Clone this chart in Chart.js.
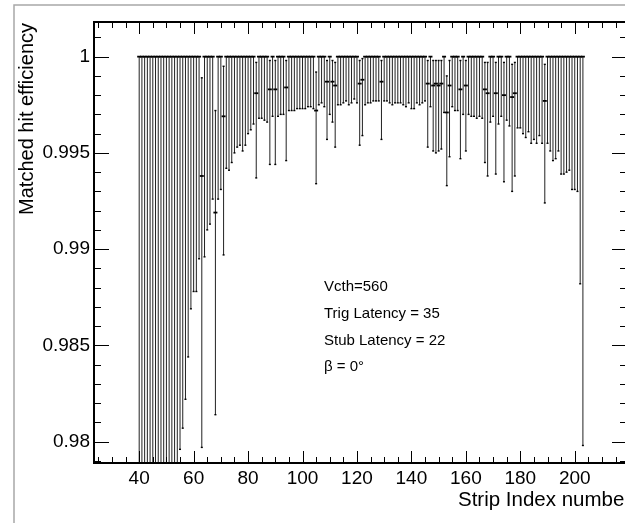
<!DOCTYPE html>
<html>
<head>
<meta charset="utf-8">
<title>Matched hit efficiency</title>
<script src="https://cdn.jsdelivr.net/npm/chart.js@4.4.1/dist/chart.umd.min.js"></script>
<style>
  html, body { margin: 0; padding: 0; background: #fff; overflow: hidden; }
  #wrap { width: 625px; height: 523px; overflow: hidden; }
  canvas { display: block; }
</style>
</head>
<body>
<div id="wrap"><canvas id="effChart" width="640" height="523"></canvas></div>
<script>
// Strip index (x categories)
const stripIndex = [
    40, 41, 42, 43, 44, 45, 46, 47, 48, 49,
    50, 51, 52, 53, 54, 55, 56, 57, 58, 59,
    60, 61, 62, 63, 64, 65, 66, 67, 68, 69,
    70, 71, 72, 73, 74, 75, 76, 77, 78, 79,
    80, 81, 82, 83, 84, 85, 86, 87, 88, 89,
    90, 91, 92, 93, 94, 95, 96, 97, 98, 99,
    100, 101, 102, 103, 104, 105, 106, 107, 108, 109,
    110, 111, 112, 113, 114, 115, 116, 117, 118, 119,
    120, 121, 122, 123, 124, 125, 126, 127, 128, 129,
    130, 131, 132, 133, 134, 135, 136, 137, 138, 139,
    140, 141, 142, 143, 144, 145, 146, 147, 148, 149,
    150, 151, 152, 153, 154, 155, 156, 157, 158, 159,
    160, 161, 162, 163, 164, 165, 166, 167, 168, 169,
    170, 171, 172, 173, 174, 175, 176, 177, 178, 179,
    180, 181, 182, 183, 184, 185, 186, 187, 188, 189,
    190, 191, 192, 193, 194, 195, 196, 197, 198, 199,
    200, 201, 202, 203
];

// Matched hit efficiency per strip
const efficiency = [
    1, 1, 1, 1, 1, 1, 1, 1, 1, 1,
    1, 1, 1, 1, 1, 1, 1, 1, 1, 1,
    1, 1, 1, 0.9938, 1, 1, 1, 1, 0.9919, 1,
    1, 0.9969, 1, 1, 1, 1, 1, 1, 1, 1,
    1, 1, 1, 0.9981, 1, 1, 1, 1, 0.9983, 1,
    0.9983, 1, 1, 1, 0.9984, 1, 1, 1, 1, 1,
    1, 1, 1, 1, 1, 0.9972, 1, 1, 1, 0.9987,
    1, 0.9987, 0.9985, 1, 1, 1, 1, 1, 1, 1,
    1, 0.9986, 0.9988, 1, 1, 1, 1, 1, 1, 0.9987,
    1, 1, 1, 1, 1, 1, 1, 1, 1, 1,
    1, 1, 1, 1, 1, 1, 0.9986, 1, 0.9985, 0.9986,
    0.9985, 0.9986, 1, 0.9971, 0.9985, 1, 1, 1, 0.9983, 1,
    0.9985, 1, 1, 1, 1, 1, 1, 0.9983, 0.9981, 1,
    1, 0.9981, 1, 1, 0.9980, 1, 1, 0.9979, 0.9981, 1,
    1, 1, 1, 1, 1, 1, 1, 1, 1, 0.9977,
    1, 1, 1, 1, 1, 1, 1, 1, 1, 1,
    1, 1, 1, 1
];

// Lower end of the asymmetric error bar
const lowerBound = [
    0.9745, 0.9742, 0.9748, 0.9744, 0.9746, 0.9750, 0.9749, 0.9752, 0.9755, 0.9753,
    0.9758, 0.9760, 0.9762, 0.9765, 0.9770, 0.9796, 0.9807, 0.9822, 0.9844, 0.9869,
    0.9878, 0.9878, 0.9895, 0.9797, 0.9896, 0.9910, 0.9913, 0.9926, 0.9814, 0.9926,
    0.9931, 0.9897, 0.9942, 0.9941, 0.9945, 0.9950, 0.9953, 0.9954, 0.9951, 0.9954,
    0.9960, 0.9962, 0.9965, 0.9937, 0.9968, 0.9968, 0.9967, 0.9966, 0.9944, 0.9969,
    0.9944, 0.9969, 0.9970, 0.9970, 0.9946, 0.9972, 0.9972, 0.9972, 0.9973, 0.9973,
    0.9973, 0.9973, 0.9974, 0.9974, 0.9973, 0.9934, 0.9975, 0.9976, 0.9974, 0.9957,
    0.9970, 0.9966, 0.9953, 0.9975, 0.9975, 0.9976, 0.9977, 0.9975, 0.9976, 0.9978,
    0.9976, 0.9954, 0.9959, 0.9975, 0.9976, 0.9976, 0.9977, 0.9977, 0.9977, 0.9957,
    0.9977, 0.9977, 0.9976, 0.9975, 0.9976, 0.9976, 0.9976, 0.9975, 0.9974, 0.9976,
    0.9973, 0.9973, 0.9976, 0.9975, 0.9976, 0.9977, 0.9953, 0.9974, 0.9951, 0.9950,
    0.9951, 0.9952, 0.9971, 0.9933, 0.9948, 0.9974, 0.9972, 0.9972, 0.9947, 0.9970,
    0.9951, 0.9970, 0.9969, 0.9969, 0.9968, 0.9969, 0.9968, 0.9945, 0.9938, 0.9966,
    0.9969, 0.9939, 0.9965, 0.9969, 0.9935, 0.9967, 0.9964, 0.9930, 0.9938, 0.9963,
    0.9963, 0.9960, 0.9958, 0.9961, 0.9955, 0.9957, 0.9955, 0.9959, 0.9955, 0.9924,
    0.9955, 0.9951, 0.9946, 0.9947, 0.9951, 0.9939, 0.9939, 0.9940, 0.9941, 0.9931,
    0.9931, 0.9930, 0.9882, 0.9798
];

// Upper end of the asymmetric error bar
const upperBound = [
    1, 1, 1, 1, 1, 1, 1, 1, 1, 1,
    1, 1, 1, 1, 1, 1, 1, 1, 1, 1,
    1, 1, 1, 0.9989, 1, 1, 1, 1, 0.9972, 1,
    1, 0.9995, 1, 1, 1, 1, 1, 1, 1, 1,
    1, 1, 1, 0.9997, 1, 1, 1, 1, 0.9998, 1,
    0.9998, 1, 1, 1, 0.9998, 1, 1, 1, 1, 1,
    1, 1, 1, 1, 1, 0.9992, 1, 1, 1, 0.9998,
    1, 0.9998, 0.9997, 1, 1, 1, 1, 1, 1, 1,
    1, 0.9998, 0.9999, 1, 1, 1, 1, 1, 1, 0.9998,
    1, 1, 1, 1, 1, 1, 1, 1, 1, 1,
    1, 1, 1, 1, 1, 1, 0.9998, 1, 0.9998, 0.9998,
    0.9998, 0.9998, 1, 0.9990, 0.9998, 1, 1, 1, 0.9998, 1,
    0.9998, 1, 1, 1, 1, 1, 1, 0.9997, 0.9997, 1,
    1, 0.9997, 1, 1, 0.9997, 1, 1, 0.9996, 0.9997, 1,
    1, 1, 1, 1, 1, 1, 1, 1, 1, 0.9996,
    1, 1, 1, 1, 1, 1, 1, 1, 1, 1,
    1, 1, 1, 1
];

const xTicks = [40, 60, 80, 100, 120, 140, 160, 180, 200];
const yTicks = [0.98, 0.985, 0.99, 0.995, 1];
const yTickLabels = ['0.98', '0.985', '0.99', '0.995', '1'];
const infoLines = ['Vcth=560', 'Trig Latency = 35', 'Stub Latency = 22', 'β = 0°'];

const FONT = "'Liberation Sans', Arial, Helvetica, sans-serif";
Chart.defaults.font.family = FONT;
Chart.defaults.color = '#000';

// ROOT-like frame, inner ticks, axis titles and the text box
const rootStyle = {
    id: 'rootStyle',
    beforeDraw(chart) {
        const ctx = chart.ctx;
        ctx.save();
        ctx.fillStyle = '#fff';
        ctx.fillRect(0, 0, chart.width, chart.height);
        ctx.strokeStyle = '#a8a8a8';
        ctx.lineWidth = 1.5;
        ctx.beginPath();
        ctx.moveTo(14, chart.height);
        ctx.lineTo(14, 5);
        ctx.lineTo(chart.width, 5);
        ctx.stroke();
        ctx.restore();
    },
    afterDraw(chart) {
        const ctx = chart.ctx;
        const a = chart.chartArea;
        const x = chart.scales.x;
        const y = chart.scales.y;
        ctx.save();
        ctx.strokeStyle = '#000';
        ctx.lineWidth = 1;
        ctx.beginPath();
        // x ticks every 5, major every 20
        for (let k = Math.ceil(x.min / 5); k * 5 <= x.max; k++) {
            const v = k * 5;
            const px = Math.round(x.getPixelForValue(v)) + 0.5;
            const len = v % 20 === 0 ? 12 : 6;
            ctx.moveTo(px, a.bottom); ctx.lineTo(px, a.bottom - len);
            ctx.moveTo(px, a.top); ctx.lineTo(px, a.top + len);
        }
        // y ticks every 0.001, major every 0.005
        for (let k = Math.ceil(y.min * 1000); k <= Math.floor(y.max * 1000); k++) {
            const py = Math.round(y.getPixelForValue(k / 1000)) + 0.5;
            const len = k % 5 === 0 ? 15 : 7;
            ctx.moveTo(a.left, py); ctx.lineTo(a.left + len, py);
            ctx.moveTo(a.right, py); ctx.lineTo(a.right - len, py);
        }
        ctx.stroke();

        ctx.lineWidth = 2;
        ctx.strokeRect(a.left, a.top, a.right - a.left, a.bottom - a.top);

        ctx.fillStyle = '#000';
        ctx.font = '20.5px ' + FONT;
        ctx.textAlign = 'left';
        ctx.textBaseline = 'alphabetic';
        ctx.fillText('Strip Index number', 458, 506);

        ctx.save();
        ctx.font = '20px ' + FONT;
        ctx.textAlign = 'right';
        ctx.translate(32.5, a.top + 1);
        ctx.rotate(-Math.PI / 2);
        ctx.fillText('Matched hit efficiency', 0, 0);
        ctx.restore();

        ctx.font = '15px ' + FONT;
        ctx.textAlign = 'left';
        const baselines = [291, 317.5, 345, 371];
        infoLines.forEach((t, i) => ctx.fillText(t, 324, baselines[i]));
        ctx.restore();
    }
};

const errorBars = stripIndex.map((s, i) => ({ x: s, y: [lowerBound[i], upperBound[i]] }));
const points = stripIndex.map((s, i) => ({ x: s, y: efficiency[i] }));
const lowCaps = stripIndex.map((s, i) => ({ x: s, y: lowerBound[i] }));
const highCaps = stripIndex
    .map((s, i) => ({ x: s, y: upperBound[i] }))
    .filter((p, i) => efficiency[i] < 1);

const ctx = document.getElementById('effChart').getContext('2d');
new Chart(ctx, {
    type: 'scatter',
    data: {
        datasets: [{
            data: points,
            pointStyle: 'line',
            pointRadius: 2,
            pointHoverRadius: 2,
            pointBorderWidth: 1.8,
            pointBorderColor: '#000',
            clip: 0,
            order: 1
        }, {
            data: lowCaps.concat(highCaps),
            pointStyle: 'line',
            pointRadius: 1,
            pointHoverRadius: 1,
            pointBorderWidth: 1.4,
            pointBorderColor: '#000',
            clip: 0,
            order: 2
        }, {
            type: 'bar',
            data: errorBars,
            barThickness: 1,
            inflateAmount: 0,
            borderWidth: 0,
            backgroundColor: '#222',
            clip: 0,
            order: 3
        }]
    },
    options: {
        responsive: false,
        animation: false,
        devicePixelRatio: 1,
        events: [],
        layout: {
            padding: { left: 0, top: 22, right: 13, bottom: 0 }
        },
        plugins: {
            legend: { display: false },
            tooltip: { enabled: false }
        },
        scales: {
            x: {
                type: 'linear',
                min: 23.4,
                max: 219.2,
                offset: false,
                grid: { display: false, drawTicks: false, offset: false },
                border: { display: false },
                afterBuildTicks: scale => { scale.ticks = xTicks.map(v => ({ value: v })); },
                afterFit: scale => { scale.height = 60; },
                ticks: {
                    autoSkip: false,
                    maxRotation: 0,
                    padding: 4,
                    font: { size: 19 },
                    callback: v => String(v)
                }
            },
            y: {
                type: 'linear',
                min: 0.97889,
                max: 1.0018,
                grid: { display: false, drawTicks: false },
                border: { display: false },
                afterBuildTicks: scale => { scale.ticks = yTicks.map(v => ({ value: v })); },
                afterFit: scale => { scale.width = 94; },
                ticks: {
                    autoSkip: false,
                    padding: 4,
                    font: { size: 19 },
                    callback: v => yTickLabels[yTicks.indexOf(v)]
                }
            }
        }
    },
    plugins: [rootStyle]
});
</script>
</body>
</html>
